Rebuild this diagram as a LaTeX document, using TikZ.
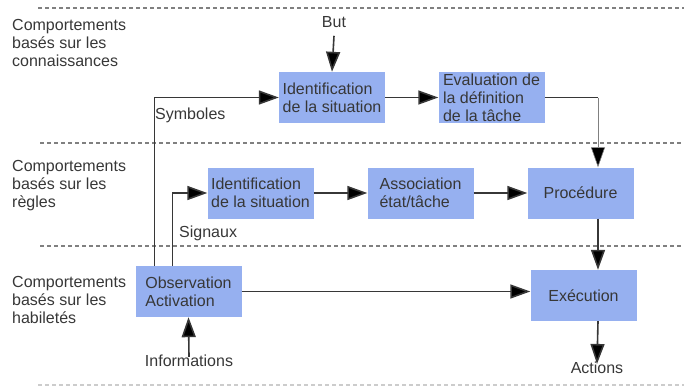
\documentclass[tikz,border=0pt]{standalone}
\usepackage{fontspec}
\setmainfont{Liberation Sans}
\usepackage{tikz}
\usetikzlibrary{arrows.meta}

\definecolor{boxblue}{RGB}{150,176,240}
\definecolor{inkgrey}{RGB}{55,55,55}

\begin{document}
\begin{tikzpicture}[x=1pt, y=-1pt,
    every node/.style={font=\fontsize{16}{18}\selectfont, text=inkgrey, inner sep=2pt},
    stepbox/.style={fill=boxblue, minimum width=106pt, minimum height=51pt, align=left},
    levelname/.style={anchor=west, align=left},
    flow/.style={draw=inkgrey, line width=1.6pt, -{Triangle[length=20pt,width=14pt,fill=black]}},
    plain/.style={draw=inkgrey, line width=1.6pt},
    separator/.style={draw=gray, line width=1.3pt, dash pattern=on 4pt off 3pt}]

    \useasboundingbox (0,0) rectangle (684,388);

    % Level separators
    \draw[separator] (38,8) -- (684,8);
    \draw[separator] (40,143) -- (684,143);
    \draw[separator] (40,246) -- (684,246);
    \draw[separator, draw=gray!40] (38,385) -- (684,385);

    % Level names
    \node[levelname] (knowledge) at (10,43) {Comportements\\bas\'es sur les\\connaissances};
    \node[levelname] (rules) at (10,186) {Comportements\\bas\'es sur les\\r\`egles};
    \node[levelname] (skills) at (10,300) {Comportements\\bas\'es sur les\\habilet\'es};

    % Knowledge level
    \node (but) at (334,22) {But};
    \node[stepbox] (ident1) at (332,97.5) {Identification\\de la situation};
    \node[stepbox] (eval) at (491.5,97.5) {Evaluation de\\la d\'efinition\\de la t\^ache};
    \node[anchor=west] (symb) at (153,115) {Symboles};

    % Rule level
    \node[stepbox] (ident2) at (260.5,193) {Identification\\de la situation};
    \node[stepbox] (assoc) at (420.5,193) {Association\\\'etat/t\^ache};
    \node[stepbox, align=center] (proc) at (580.5,193) {Proc\'edure};
    \node[anchor=west] (sign) at (177,233) {Signaux};

    % Skill level
    \node[stepbox] (obs) at (188.5,291.5) {Observation\\Activation};
    \node[stepbox, align=center] (exec) at (583.5,295.5) {Ex\'ecution};
    \node (info) at (189,361) {Informations};
    \node (act) at (597,368) {Actions};

    \coordinate (bend) at (598,97.5);

    % Connectors
    \draw[flow] ([yshift=-6pt]but.south) -- (ident1.north);
    \draw[flow] ([xshift=19pt]obs.north west) |- (ident1.west);
    \draw[flow] ([xshift=37pt]obs.north west) |- (ident2.west);
    \draw[flow] (ident1) -- (eval);
    \draw[plain] (eval.east) -- (bend);
    \draw[flow, line width=0.6pt, draw=gray] (bend) -- (bend |- proc.north);
    \draw[flow] (ident2) -- (assoc);
    \draw[flow] (assoc) -- (proc);
    \draw[flow] (proc.south -| bend) -- (exec.north -| bend);
    \draw[flow] (obs.east) -- (obs.east -| exec.west);
    \draw[flow] (exec.south -| bend) -- ([yshift=-4pt]act.north);
    \draw[flow] ([yshift=-4pt]info.north) -- (obs.south);
\end{tikzpicture}
\end{document}
